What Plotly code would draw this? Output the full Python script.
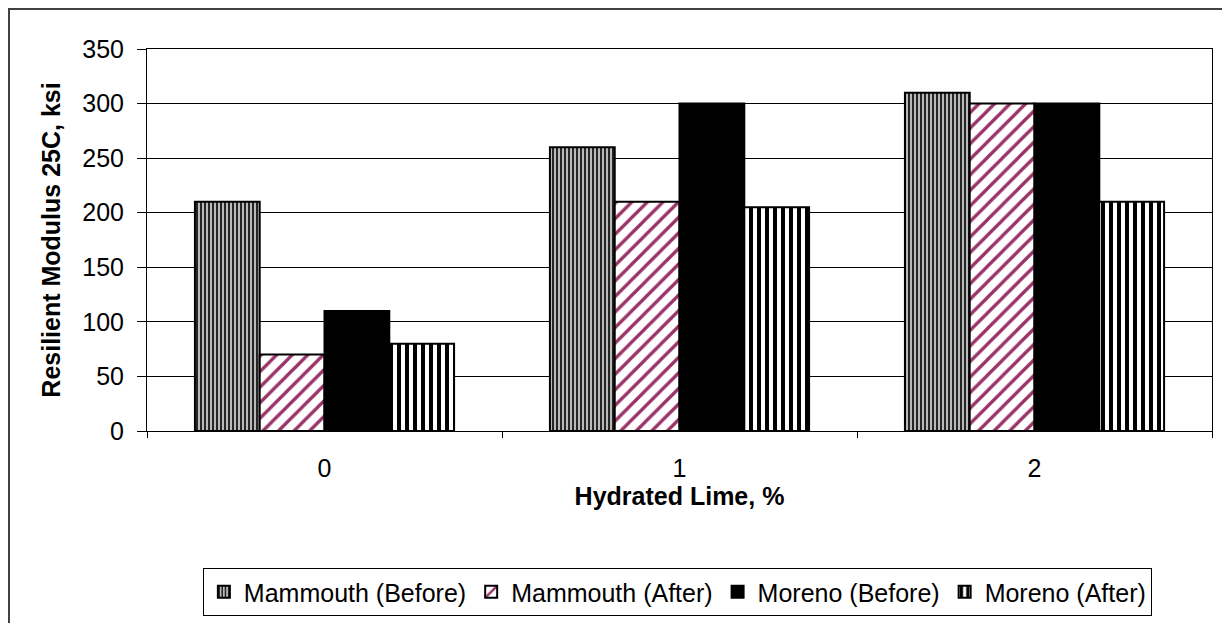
import plotly.graph_objects as go

# Hydrated lime content (%) and resilient modulus at 25C (ksi)
lime = ["0", "1", "2"]
mammouth_before = [210, 260, 310]
mammouth_after = [70, 210, 300]
moreno_before = [110, 300, 300]
moreno_after = [80, 205, 210]

fig = go.Figure()

fig.add_trace(go.Bar(
    x=lime, y=mammouth_before, name="Mammouth (Before)",
    marker=dict(color="#b8b8b8", line=dict(color="black", width=2),
                pattern=dict(shape="|", fgcolor="black", bgcolor="#b8b8b8",
                             size=4, solidity=0.4, fillmode="replace"))
))
fig.add_trace(go.Bar(
    x=lime, y=mammouth_after, name="Mammouth (After)",
    marker=dict(color="white", line=dict(color="black", width=2),
                pattern=dict(shape="/", fgcolor="#993366", bgcolor="white",
                             size=11, solidity=0.3, fillmode="replace"))
))
fig.add_trace(go.Bar(
    x=lime, y=moreno_before, name="Moreno (Before)",
    marker=dict(color="black", line=dict(color="black", width=2))
))
fig.add_trace(go.Bar(
    x=lime, y=moreno_after, name="Moreno (After)",
    marker=dict(color="white", line=dict(color="black", width=2),
                pattern=dict(shape="|", fgcolor="black", bgcolor="white",
                             size=8, solidity=0.5, fillmode="replace"))
))

# outer chart frame (as far up/left as the svg allows)
fig.add_shape(type="rect", xref="paper", yref="paper",
              x0=-0.1296, x1=1.0235, y0=-0.521, y1=1.1047,
              line=dict(color="#404040", width=2), fillcolor="rgba(0,0,0,0)",
              layer="below")

# the page body adds an 8px offset, so margins are shifted to compensate
fig.update_layout(
    width=1230, height=623,
    margin=dict(l=139, r=26, t=41, b=200, autoexpand=False),
    paper_bgcolor="white", plot_bgcolor="white",
    barmode="group", bargap=0.27, bargroupgap=0,
    font=dict(family="Liberation Sans, Arial, sans-serif", size=25, color="black"),
    showlegend=True,
    legend=dict(orientation="h", xref="paper", x=0.498, xanchor="center",
                yref="container", y=0.101, yanchor="top",
                bordercolor="black", borderwidth=1, font=dict(size=25),
                itemwidth=30, tracegroupgap=0),
)

fig.update_xaxes(
    title=dict(text="<b>Hydrated Lime, %</b>", standoff=0, font=dict(size=25)),
    type="category", tickson="boundaries", ticks="outside", ticklen=6,
    tickcolor="black", showline=True, linecolor="black", linewidth=1,
    mirror=True, showgrid=False, tickfont=dict(size=25),
    ticklabelstandoff=15, automargin=False,
)
fig.update_yaxes(
    title=dict(text="<b>Resilient Modulus 25C, ksi</b>", standoff=14, font=dict(size=25)),
    range=[0, 350], dtick=50, ticks="outside", ticklen=9, tickcolor="black",
    showline=True, linecolor="black", linewidth=1, mirror=True,
    showgrid=True, gridcolor="black", gridwidth=1, tickfont=dict(size=25),
    zeroline=False, ticklabelstandoff=8, automargin=False,
)

fig.write_html("out.html")
